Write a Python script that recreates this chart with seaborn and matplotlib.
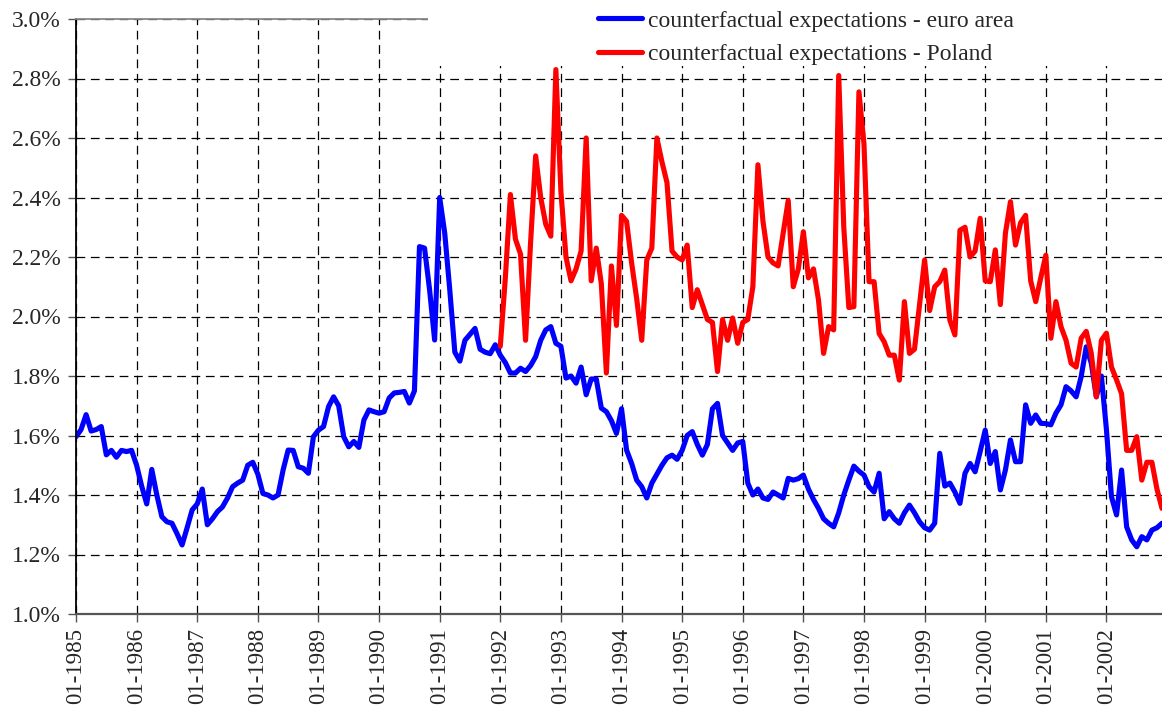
import numpy as np
import pandas as pd
import matplotlib
matplotlib.use('Agg')
import matplotlib.pyplot as plt
from matplotlib.lines import Line2D
from matplotlib.patches import Rectangle
import seaborn as sns

# monthly values (percent)
euro_area = [
    1.596, 1.62, 1.67, 1.615, 1.62, 1.63, 1.535, 1.55, 1.527, 1.55, 1.546, 1.55,      # 1985
    1.50, 1.43, 1.37, 1.486, 1.40, 1.327, 1.31, 1.305, 1.27, 1.232, 1.29, 1.35,       # 1986
    1.37, 1.42, 1.30, 1.32, 1.344, 1.36, 1.39, 1.428, 1.44, 1.45, 1.50, 1.51,         # 1987
    1.47, 1.405, 1.40, 1.39, 1.40, 1.484, 1.551, 1.55, 1.495, 1.49, 1.473, 1.596,     # 1988
    1.618, 1.63, 1.697, 1.73, 1.70, 1.596, 1.562, 1.58, 1.56, 1.652, 1.686, 1.68,     # 1989
    1.675, 1.68, 1.726, 1.743, 1.745, 1.748, 1.709, 1.75, 2.235, 2.23, 2.09, 1.921,   # 1990
    2.40, 2.28, 2.089, 1.88, 1.85, 1.92, 1.94, 1.96, 1.89, 1.88, 1.875, 1.905,        # 1991
    1.87, 1.845, 1.81, 1.81, 1.826, 1.815, 1.835, 1.865, 1.92, 1.955, 1.966, 1.91,    # 1992
    1.90, 1.793, 1.80, 1.776, 1.83, 1.737, 1.79, 1.79, 1.692, 1.68, 1.65, 1.607,      # 1993
    1.69, 1.551, 1.506, 1.45, 1.428, 1.39, 1.44, 1.47, 1.50, 1.525, 1.534, 1.52,      # 1994
    1.55, 1.60, 1.613, 1.57, 1.534, 1.57, 1.69, 1.708, 1.60, 1.575, 1.55, 1.575,      # 1995
    1.58, 1.44, 1.40, 1.42, 1.39, 1.385, 1.41, 1.40, 1.39, 1.456, 1.45, 1.455,        # 1996
    1.467, 1.42, 1.385, 1.355, 1.32, 1.305, 1.293, 1.34, 1.40, 1.45, 1.497, 1.48,     # 1997
    1.467, 1.428, 1.41, 1.473, 1.32, 1.344, 1.32, 1.305, 1.34, 1.366, 1.34, 1.31,     # 1998
    1.29, 1.282, 1.305, 1.54, 1.43, 1.44, 1.41, 1.372, 1.473, 1.506, 1.478, 1.546,    # 1999
    1.618, 1.506, 1.546, 1.417, 1.484, 1.585, 1.512, 1.512, 1.703, 1.641, 1.669, 1.641,  # 2000
    1.64, 1.636, 1.675, 1.703, 1.764, 1.75, 1.73, 1.798, 1.898, 1.843, 1.73, 1.80,    # 2001
    1.62, 1.394, 1.333, 1.484, 1.293, 1.249, 1.226, 1.26, 1.249, 1.282, 1.29, 1.305,  # 2002
]

poland = [
    1.90, 2.13, 2.41, 2.26, 2.21, 1.92, 2.25, 2.54, 2.40, 2.31, 2.27, 2.83,           # 1992
    2.42, 2.20, 2.12, 2.16, 2.22, 2.60, 2.12, 2.23, 2.11, 1.81, 2.17, 1.97,           # 1993
    2.34, 2.32, 2.18, 2.06, 1.92, 2.19, 2.23, 2.60, 2.52, 2.45, 2.22, 2.20,           # 1994
    2.19, 2.24, 2.03, 2.09, 2.04, 1.99, 1.98, 1.815, 1.99, 1.92, 1.995, 1.91,         # 1995
    1.98, 1.99, 2.10, 2.51, 2.32, 2.20, 2.18, 2.17, 2.28, 2.39, 2.10, 2.16,           # 1996
    2.285, 2.13, 2.16, 2.055, 1.876, 1.966, 1.955, 2.81, 2.30, 2.03, 2.033, 2.755,    # 1997
    2.58, 2.117, 2.117, 1.943, 1.915, 1.87, 1.87, 1.786, 2.05, 1.876, 1.89, 2.04,     # 1998
    2.19, 2.02, 2.10, 2.117, 2.156, 1.988, 1.938, 2.29, 2.30, 2.20, 2.22, 2.33,       # 1999
    2.12, 2.117, 2.224, 2.04, 2.28, 2.386, 2.24, 2.315, 2.34, 2.12, 2.05, 2.13,       # 2000
    2.206, 1.927, 2.05, 1.966, 1.92, 1.843, 1.83, 1.927, 1.95, 1.876, 1.73, 1.92,     # 2001
    1.944, 1.83, 1.787, 1.74, 1.55, 1.55, 1.596, 1.45, 1.51, 1.51, 1.42, 1.355,       # 2002
]

label_euro = 'counterfactual expectations - euro area'
label_pl = 'counterfactual expectations - Poland'
y_ticks = [1.0, 1.2, 1.4, 1.6, 1.8, 2.0, 2.2, 2.4, 2.6, 2.8, 3.0]

# category positions: one slot per month, starting 01-1985
euro_months = pd.date_range('1985-01-01', periods=len(euro_area), freq='MS')
poland_months = pd.date_range('1992-01-01', periods=len(poland), freq='MS')
month_pos = {m: i for i, m in enumerate(euro_months)}

df = pd.concat([
    pd.DataFrame({'month': euro_months, 'value': euro_area, 'series': label_euro}),
    pd.DataFrame({'month': poland_months, 'value': poland, 'series': label_pl}),
], ignore_index=True)
df['pos'] = df['month'].map(month_pos)

sns.set_style('white')
plt.rcParams['font.family'] = ['Liberation Serif', 'DejaVu Serif']

W, H = 1162, 709
fig = plt.figure(figsize=(W / 100, H / 100), dpi=100)
ax = fig.add_axes([76 / W, 95 / H, 1086 / W, 595 / H])

colors = {label_euro: '#0000ff', label_pl: '#ff0000'}
lw = 3.7
sns.lineplot(data=df, x='pos', y='value', hue='series', palette=colors,
             linewidth=lw, ax=ax, legend=False, sort=False)

ax.set_ylim(1.0, 3.0)
ax.set_yticks(y_ticks)
ax.set_yticklabels([f'{v:.1f}%' for v in y_ticks])
ax.set_xlim(0, len(euro_months) - 1)
xt = list(range(0, len(euro_months), 12))
ax.set_xticks(xt)
ax.set_xticklabels([euro_months[i].strftime('%m-%Y') for i in xt], rotation=90)
ax.set_xlabel('')
ax.set_ylabel('')

ax.grid(True, color='black', linestyle=(0, (7, 4.5)), linewidth=0.9)
ax.set_axisbelow(True)
ax.spines['left'].set_color('black')
ax.spines['left'].set_linewidth(1.3)
ax.spines['bottom'].set_color('#555555')
ax.spines['bottom'].set_linewidth(1.6)
ax.spines['top'].set_color('#888888')
ax.spines['top'].set_linewidth(1.3)
ax.spines['right'].set_visible(False)

ax.tick_params(axis='both', direction='out', length=6, width=1, color='#555555',
               bottom=True, left=True)
ax.tick_params(axis='y', pad=5, labelsize=17)
ax.tick_params(axis='x', pad=4, labelsize=16.5)

# blank legend area over the top of the plot
fig.add_artist(Rectangle((428 / W, 1 - 66 / H), 1 - 428 / W, 66 / H,
                         transform=fig.transFigure, facecolor='white',
                         edgecolor='none', zorder=3))

handles = [Line2D([], [], color=colors[label_euro], linewidth=lw),
           Line2D([], [], color=colors[label_pl], linewidth=lw)]
fig.legend(handles, [label_euro, label_pl], loc='upper left',
           bbox_to_anchor=(598 / W, 1 - 10 / H), frameon=False, fontsize=17,
           handlelength=1.85, handletextpad=0.25, labelspacing=0.5,
           borderpad=0, borderaxespad=0)

fig.savefig('out.png', dpi=100)
